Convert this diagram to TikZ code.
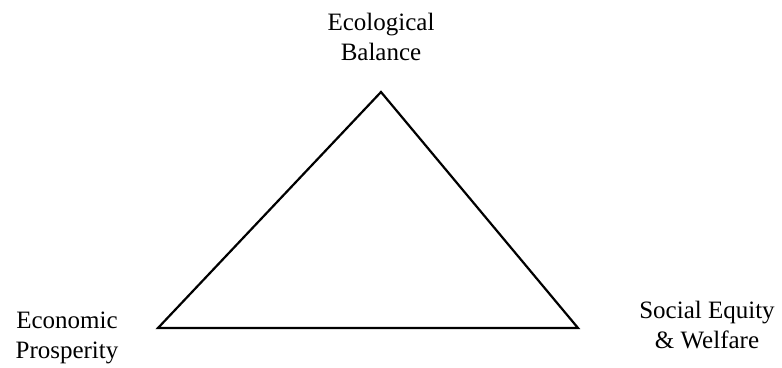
\documentclass[tikz,border=0pt]{standalone}
\usepackage{fontspec}
\setmainfont{Liberation Serif}
\begin{document}
\begin{tikzpicture}[x=1pt,y=-1pt,
  lbl/.style={align=center,font=\fontsize{25}{30}\selectfont,inner sep=0pt},
  edge/.style={line width=2.2pt,line join=miter}]
\useasboundingbox (0,0) rectangle (782,367);
\coordinate (top) at (381,92);
\coordinate (left) at (158,328);
\coordinate (right) at (578,328);
\draw[edge] (top) -- (left) -- (right) -- cycle;
\node[lbl] (eco) at (381,37) {Ecological\\Balance};
\node[lbl] (econ) at (67,338) {Economic\\Prosperity};
\node[lbl] (soc) at (707,325) {Social Equity\\\& Welfare};
\end{tikzpicture}
\end{document}
